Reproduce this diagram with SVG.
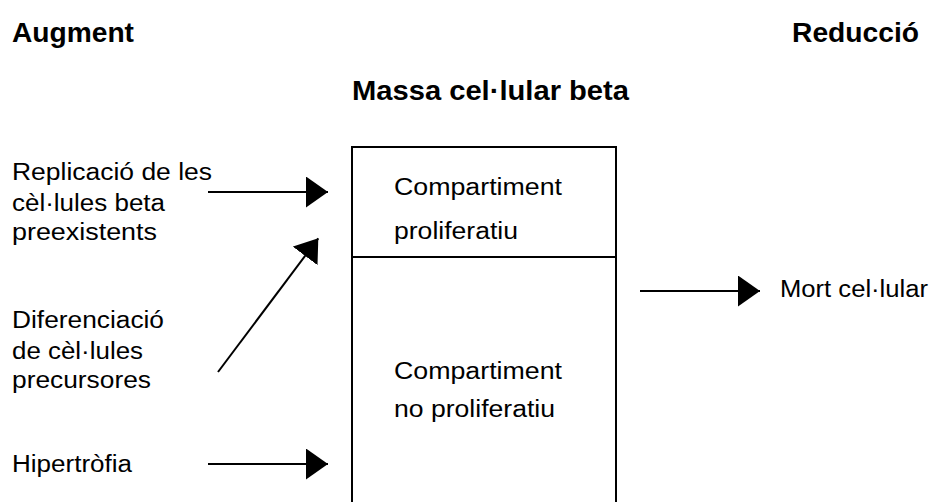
<svg xmlns="http://www.w3.org/2000/svg" width="934" height="502" viewBox="0 0 934 502">
  <style>
    .h { font-family: "Liberation Sans", Arial, sans-serif; font-weight: bold; font-size: 27px; fill: #000; }
    .t { font-family: "Liberation Sans", Arial, sans-serif; font-size: 23.5px; fill: #000; }
    .ln { stroke: #000; stroke-width: 2; fill: none; }
    .box { stroke: #000; stroke-width: 2; fill: #fff; }
  </style>
  <defs>
    <marker id="ah" viewBox="0 0 22 31" refX="22" refY="15.5" markerWidth="22" markerHeight="31" markerUnits="userSpaceOnUse" orient="auto">
      <path d="M0,0 L22,15.5 L0,31 Z" fill="#000"/>
    </marker>
  </defs>
  <rect width="934" height="502" fill="#fff"/>

  <g id="headings">
    <text class="h" x="12" y="42" textLength="122" lengthAdjust="spacingAndGlyphs">Augment</text>
    <text class="h" x="792" y="42" textLength="127" lengthAdjust="spacingAndGlyphs">Reducció</text>
    <text class="h" x="352" y="100" textLength="277" lengthAdjust="spacingAndGlyphs">Massa cel·lular beta</text>
  </g>

  <g id="massa">
    <rect class="box" x="352" y="147" width="264" height="380"/>
    <line class="ln" x1="352" y1="257" x2="616" y2="257"/>
  </g>

  <g id="compartiment-proliferatiu">
    <text class="t" x="394" y="195" textLength="168" lengthAdjust="spacingAndGlyphs">Compartiment</text>
    <text class="t" x="394" y="239" textLength="124" lengthAdjust="spacingAndGlyphs">proliferatiu</text>
  </g>

  <g id="compartiment-no-proliferatiu">
    <text class="t" x="394" y="379" textLength="168" lengthAdjust="spacingAndGlyphs">Compartiment</text>
    <text class="t" x="394" y="417" textLength="161" lengthAdjust="spacingAndGlyphs">no proliferatiu</text>
  </g>

  <g id="replicacio">
    <text class="t" x="12" y="180" textLength="200" lengthAdjust="spacingAndGlyphs">Replicació de les</text>
    <text class="t" x="12" y="211" textLength="153" lengthAdjust="spacingAndGlyphs">cèl·lules beta</text>
    <text class="t" x="12" y="240" textLength="145" lengthAdjust="spacingAndGlyphs">preexistents</text>
  </g>

  <g id="diferenciacio">
    <text class="t" x="12" y="328" textLength="152" lengthAdjust="spacingAndGlyphs">Diferenciació</text>
    <text class="t" x="12" y="359" textLength="131" lengthAdjust="spacingAndGlyphs">de cèl·lules</text>
    <text class="t" x="12" y="388" textLength="139" lengthAdjust="spacingAndGlyphs">precursores</text>
  </g>

  <g id="hipertrofia">
    <text class="t" x="12" y="472" textLength="120" lengthAdjust="spacingAndGlyphs">Hipertròfia</text>
  </g>

  <g id="mort">
    <text class="t" x="780" y="297" textLength="148" lengthAdjust="spacingAndGlyphs">Mort cel·lular</text>
  </g>

  <g id="connectors">
    <line class="ln" x1="208" y1="192" x2="328" y2="192" marker-end="url(#ah)"/>
    <line class="ln" x1="218" y1="372" x2="318.3" y2="238.3" marker-end="url(#ah)"/>
    <line class="ln" x1="208" y1="464" x2="328" y2="464" marker-end="url(#ah)"/>
    <line class="ln" x1="640" y1="291" x2="760" y2="291" marker-end="url(#ah)"/>
  </g>
</svg>
